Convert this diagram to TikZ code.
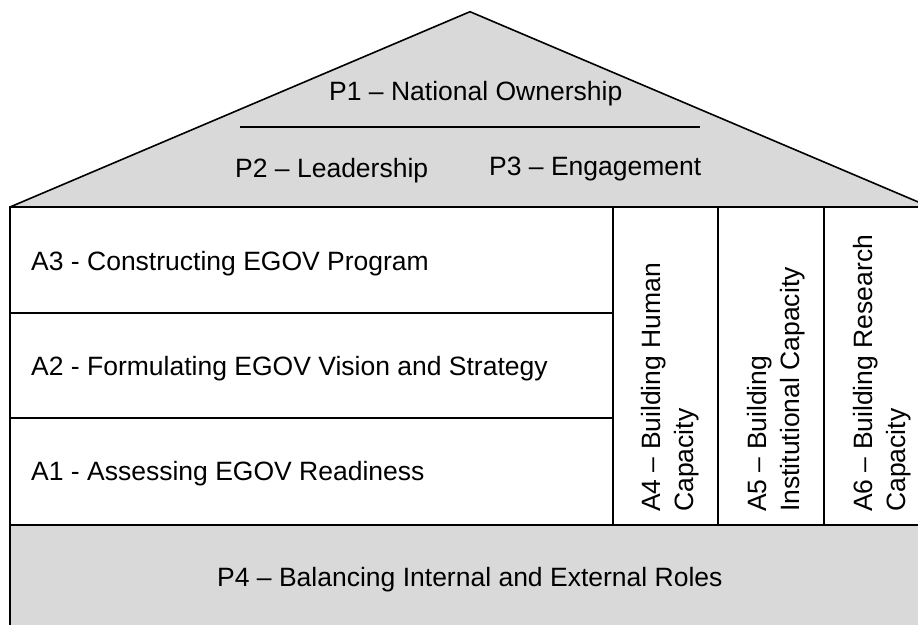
\documentclass[tikz,border=0pt]{standalone}
\usepackage{fontspec}
\setmainfont{Liberation Sans}
\definecolor{roofgray}{RGB}{217,217,217}
\begin{document}
\begin{tikzpicture}[x=1pt,y=-1pt,
  lbl/.style={font=\fontsize{26.5}{32.5}\selectfont, inner sep=0pt},
  vlbl/.style={lbl, rotate=90, anchor=west, align=left},
  frame/.style={draw=black, line width=2.2pt},
  roofline/.style={draw=black, line width=1.6pt, line join=miter},
]
\useasboundingbox (0,0) rectangle (918,624);
\begin{scope}
\clip (0,0) rectangle (918,624);

% roof
\coordinate (eaveL) at (10,207);
\coordinate (apex) at (470,11.7);
\coordinate (eaveR) at (930,207);
\fill[roofgray] (eaveL) -- (apex) -- (eaveR) -- cycle;
\draw[roofline] (eaveL) -- (apex) -- (eaveR);
\coordinate (ruleL) at (240,126.7);
\coordinate (ruleR) at (700,126.7);
\draw[line width=1.8pt] (ruleL) -- (ruleR);

\node[lbl, anchor=base west] (p1) at (329,100.7) {P1 – National Ownership};
\node[lbl, anchor=base west] (p2) at (235,177.3) {P2 – Leadership};
\node[lbl, anchor=base west] (p3) at (489,175.3) {P3 – Engagement};

% body: activities
\draw[frame] (10,207) rectangle (940,524.7);
\draw[frame] (10,313.3) -- (613.3,313.3);
\draw[frame] (10,418.3) -- (613.3,418.3);
\draw[frame] (613.3,207) -- (613.3,524.7);
\draw[frame] (718.3,207) -- (718.3,524.7);
\draw[frame] (824,207) -- (824,524.7);

\node[lbl, anchor=base west] (a3) at (31,270) {A3 - Constructing EGOV Program};
\node[lbl, anchor=base west] (a2) at (31,375.5) {A2 - Formulating EGOV Vision and Strategy};
\node[lbl, anchor=base west] (a1) at (31,480.7) {A1 - Assessing EGOV Readiness};

\node[vlbl] (a4) at (670.2,512) {A4 – Building Human\\Capacity};
\node[vlbl] (a5) at (776,512) {A5 – Building\\Institutional Capacity};
\node[vlbl] (a6) at (882.2,512) {A6 – Building Research\\Capacity};

% foundation
\filldraw[frame, fill=roofgray] (10,524.7) rectangle (940,650);
\node[lbl, anchor=base west] (p4) at (217,586.7) {P4 – Balancing Internal and External Roles};
\end{scope}
\end{tikzpicture}
\end{document}
